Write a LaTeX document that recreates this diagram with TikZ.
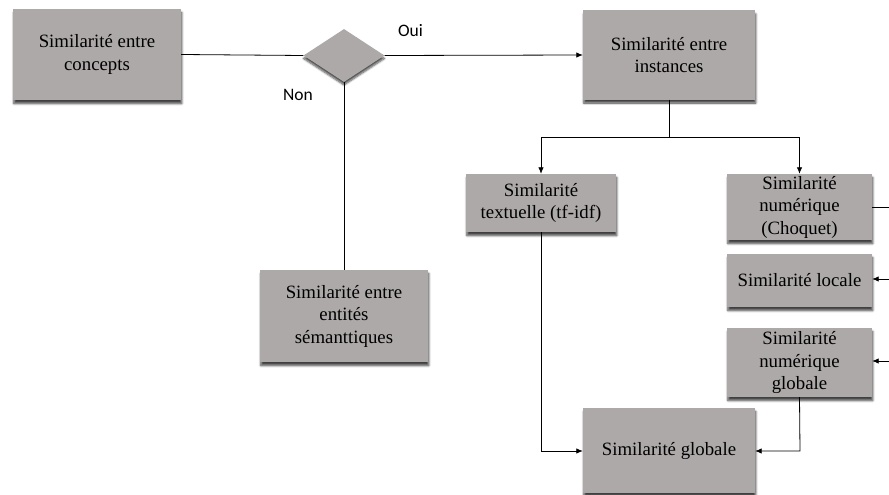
\documentclass[tikz,border=0pt]{standalone}
\usepackage{fontspec}
\setmainfont{Liberation Serif}
\newfontfamily\labelfont{Carlito}
\usetikzlibrary{shapes.geometric,arrows.meta,shadows.blur}
\definecolor{boxgrey}{RGB}{173,169,168}
\tikzset{
  box/.style={rectangle, fill=boxgrey, inner sep=0pt, align=center,
    font=\fontsize{18.8}{22.5}\selectfont,
    blur shadow={shadow xshift=0.8pt, shadow yshift=-3.5pt,
      shadow blur radius=2.2pt, shadow blur steps=6, shadow opacity=75}},
  decision/.style={diamond, fill=boxgrey, inner sep=0pt,
    minimum width=81pt, minimum height=53pt,
    blur shadow={shadow xshift=0pt, shadow yshift=-3pt,
      shadow blur radius=2pt, shadow blur steps=6, shadow opacity=70}},
  link/.style={draw=black, line width=0.8pt},
  arrowlink/.style={link, -{Latex[length=6.5pt,width=5.5pt]}},
  tag/.style={font=\labelfont\fontsize{17.5}{19}\selectfont}
}
\begin{document}
\begin{tikzpicture}[x=1pt,y=-1pt]
\useasboundingbox (0,0) rectangle (889,495);

% main boxes
\node[box, minimum width=168pt, minimum height=91pt] (concepts) at (97,54.5) {Similarité entre\\concepts};
\node[decision] (choice) at (344,55.5) {};
\node[box, minimum width=172pt, minimum height=89pt] (instances) at (669,55) {Similarité entre\\instances};
\node[box, minimum width=168pt, minimum height=92pt] (entites) at (344,316) {Similarité entre\\entités\\sémanttiques};

% instance-level measures
\node[box, minimum width=150pt, minimum height=58pt] (textuelle) at (541,203) {Similarité\\textuelle (tf-idf)};
\node[box, minimum width=145pt, minimum height=66pt] (choquet) at (799.5,207) {Similarité\\numérique\\(Choquet)};
\node[box, minimum width=145pt, minimum height=53pt] (locale) at (799.5,280.5) {Similarité locale};
\node[box, minimum width=145pt, minimum height=69pt] (numglob) at (799.5,362.5) {Similarité\\numérique\\globale};
\node[box, minimum width=172pt, minimum height=85pt] (globale) at (669,450.5) {Similarité globale};

% labels of the decision
\node[tag] (oui) at (410.5,31) {Oui};
\node[tag] (non) at (298,95) {Non};

% connectors
\draw[link] (concepts.east) -- (choice.west);
\draw[arrowlink] (choice.east) -- (instances.west);
\draw[link] (choice.south) -- (entites.north);

\coordinate (split) at (669,137);
\draw[link] (instances.south) -- (split);
\draw[arrowlink] (split) -| (textuelle.north);
\draw[arrowlink] (split) -| (choquet.north);

\coordinate (outA) at (889,207);
\coordinate (outB) at (889,279);
\coordinate (outC) at (889,361);
\draw[link] (choquet.east) -- (outA);
\draw[arrowlink] (outB) -- (locale.east |- outB);
\draw[arrowlink] (outC) -- (numglob.east |- outC);

\coordinate (joinL) at (541,451);
\coordinate (joinR) at (800,451);
\draw[arrowlink] (textuelle.south) -- (joinL) -- (globale.west |- joinL);
\draw[arrowlink] (numglob.south) -- (joinR) -- (globale.east |- joinR);
\end{tikzpicture}
\end{document}
